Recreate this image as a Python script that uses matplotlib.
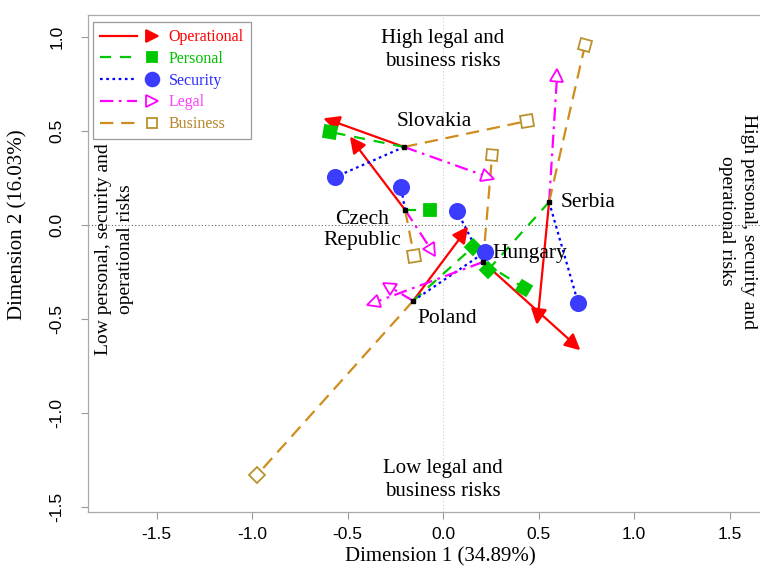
import numpy as np
import matplotlib
matplotlib.use('Agg')
import matplotlib.pyplot as plt
from matplotlib.lines import Line2D
from matplotlib.markers import MarkerStyle
from matplotlib.transforms import Affine2D
from matplotlib.legend_handler import HandlerBase

# ====== データ ======
countries = ['Slovakia', 'Czech\nRepublic', 'Hungary', 'Serbia', 'Poland']
center_x = [-0.204, -0.199, 0.209, 0.555, -0.157]
center_y = [0.415, 0.080, -0.197, 0.122, -0.404]

operational_x = [-0.581, -0.461, 0.686, 0.497, 0.105]
operational_y = [0.553, 0.431, -0.633, -0.484, -0.048]
personal_x = [-0.592, -0.068, 0.424, 0.236, 0.157]
personal_y = [0.495, 0.080, -0.335, -0.239, -0.117]
security_x = [-0.565, -0.220, 0.073, 0.707, 0.220]
security_y = [0.255, 0.202, 0.074, -0.415, -0.144]
legal_x = [0.236, -0.058, -0.366, 0.597, -0.288]
legal_y = [0.255, -0.138, -0.415, 0.798, -0.324]
business_x = [0.440, -0.152, 0.257, 0.743, -0.974]
business_y = [0.553, -0.165, 0.372, 0.957, -1.330]

label_x = [-0.047, -0.424, 0.455, 0.759, 0.021]
label_y = [0.553, -0.027, -0.154, 0.117, -0.495]

x_ticks = [-1.5, -1.0, -0.5, 0.0, 0.5, 1.0, 1.5]
y_ticks = [-1.5, -1.0, -0.5, 0.0, 0.5, 1.0]

SERIF = 'Liberation Serif'
SANS = 'Liberation Sans'

# グループごとの描画スタイル
groups = [
    ('Operational', operational_x, operational_y,
     dict(color='#FF0000', ls='-', marker='>', ms=10, mfc='#FF0000', mec='#FF0000'), '#FF0000'),
    ('Personal', personal_x, personal_y,
     dict(color='#00C800', ls=(0, (5, 4)), marker='s', ms=8.5, mfc='#00C800', mec='#00C800'), '#00C000'),
    ('Security', security_x, security_y,
     dict(color='#0000FF', ls=(0, (1.2, 1.6)), marker='o', ms=11, mfc='#3C3CFF', mec='#3C3CFF'), '#2A2AFF'),
    ('Legal', legal_x, legal_y,
     dict(color='#FF00FF', ls=(0, (6, 2.5, 1.2, 2.5)), marker='>', ms=9, mfc='white', mec='#FF00FF'), '#FF40FF'),
    ('Business', business_x, business_y,
     dict(color='#D08C1C', ls=(0, (6, 3.5)), marker='s', ms=8.5, mfc='white', mec='#B8922E'), '#B8862B'),
]

# ====== 図の作成 ======
fig = plt.figure(figsize=(7.6, 5.71), dpi=100)
ax = fig.add_axes([88 / 760, 59 / 571, 680 / 760, 497 / 571])
ax.set_xlim(-1.859, 1.701)
ax.set_ylim(-1.527, 1.117)

# 原点の補助線
ax.axhline(0, color='#666666', lw=0.8, ls=(0, (1, 2)), zorder=1)
ax.axvline(0, color='#d0d0d0', lw=0.8, ls=(0, (1, 2)), zorder=1)

fig.canvas.draw()


def display_angle(x0, y0, x1, y1):
    p0 = ax.transData.transform((x0, y0))
    p1 = ax.transData.transform((x1, y1))
    return np.degrees(np.arctan2(p1[1] - p0[1], p1[0] - p0[0]))


for name, gx, gy, st, _ in groups:
    for cx, cy, px, py in zip(center_x, center_y, gx, gy):
        ax.plot([cx, px], [cy, py], color=st['color'], ls=st['ls'], lw=1.6, zorder=2)
        ang = display_angle(cx, cy, px, py)
        if st['marker'] == 'o':
            m = 'o'
        else:
            m = MarkerStyle(st['marker'], transform=Affine2D().rotate_deg(ang))
        ax.plot([px], [py], ls='none', marker=m, ms=st['ms'], mfc=st['mfc'],
                mec=st['mec'], mew=1.3, zorder=3)

# 国の中心点
ax.plot(center_x, center_y, ls='none', marker='s', ms=3.5, color='black', zorder=4)

for name, lx, ly in zip(countries, label_x, label_y):
    ax.text(lx, ly, name, family=SERIF, fontsize=15.5, ha='center', va='center',
            linespacing=1.2, zorder=5)

# 象限の説明
ax.text(0.0, 0.93, 'High legal and\nbusiness risks', family=SERIF, fontsize=15,
        ha='center', va='center', linespacing=1.3)
ax.text(0.0, -1.356, 'Low legal and\nbusiness risks', family=SERIF, fontsize=15,
        ha='center', va='center', linespacing=1.3)
ax.text(-1.72, -0.13, 'Low personal, security and\noperational risks', family=SERIF,
        fontsize=14, ha='center', va='center', rotation=90, linespacing=1.35)
ax.text(1.54, 0.02, 'High personal, security and\noperational risks', family=SERIF,
        fontsize=14, ha='center', va='center', rotation=270, linespacing=1.35)

# 軸
ax.set_xticks(x_ticks)
ax.set_yticks(y_ticks)
ax.set_xticklabels([f'{v:.1f}' for v in x_ticks], family=SANS, fontsize=12.5)
ax.set_yticklabels([f'{v:.1f}' for v in y_ticks], family=SANS, fontsize=12.5,
                   rotation=90, va='center')
ax.tick_params(direction='out', length=5, width=0.8, color='#999999')
ax.tick_params(axis='x', pad=6)
ax.tick_params(axis='y', pad=12)
for sp in ax.spines.values():
    sp.set_color('#aaaaaa')
    sp.set_linewidth(0.9)

fig.text(440 / 760, 1 - 557 / 571, 'Dimension 1 (34.89%)', family=SERIF, fontsize=15,
         ha='center', va='center')
fig.text(18 / 760, 1 - 225 / 571, 'Dimension 2 (16.03%)', family=SERIF, fontsize=15,
         ha='center', va='center', rotation=90)


# ====== 凡例（線の右端にマーカー） ======
class LineThenMarker(HandlerBase):
    def create_artists(self, legend, orig_handle, xdescent, ydescent, width, height,
                       fontsize, trans):
        y = height / 2 - ydescent
        x0 = -xdescent
        line = Line2D([x0, x0 + width * 0.62], [y, y])
        line.update_from(orig_handle)
        line.set_marker('None')
        mark = Line2D([x0 + width * 0.88], [y])
        mark.update_from(orig_handle)
        mark.set_linestyle('None')
        line.set_transform(trans)
        mark.set_transform(trans)
        return [line, mark]


handles = []
labels = []
text_colors = []
for name, gx, gy, st, tc in groups:
    h = Line2D([0, 1], [0, 0], color=st['color'], ls=st['ls'], lw=1.6,
               marker=st['marker'], ms=st['ms'] * 0.9, mfc=st['mfc'], mec=st['mec'], mew=1.3)
    handles.append(h)
    labels.append(name)
    text_colors.append(tc)

leg = ax.legend(handles, labels, loc='upper left',
                bbox_to_anchor=(93 / 760, 1 - 22 / 571), bbox_transform=fig.transFigure,
                handler_map={Line2D: LineThenMarker()}, prop={'family': SERIF, 'size': 11.5},
                handlelength=3.7, handletextpad=0.6, labelspacing=0.36, borderpad=0.45,
                borderaxespad=0, fancybox=False, framealpha=1, edgecolor='#999999')
leg.get_frame().set_linewidth(0.9)
for t, c in zip(leg.get_texts(), text_colors):
    t.set_color(c)

plt.savefig('out.png', dpi=100)
